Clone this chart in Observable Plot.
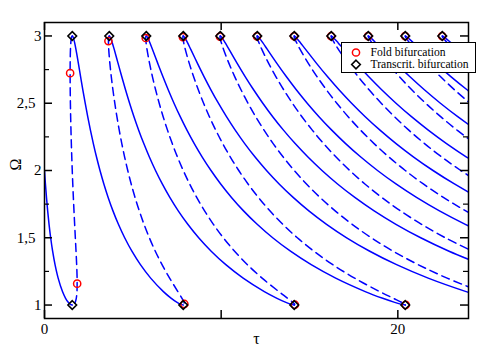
<!DOCTYPE html>
<html>
<head>
<meta charset="utf-8">
<script src="https://cdn.jsdelivr.net/npm/d3@7"></script>
<script src="https://cdn.jsdelivr.net/npm/@observablehq/plot@0.6"></script>
<style>
  html, body { margin: 0; padding: 0; background: #fff; }
  #wrap { position: relative; width: 485px; height: 357px; }
  #legend { position: absolute; left: 0; top: 0; }
  #wrap svg text { font-family: 'Liberation Serif', 'Times New Roman', serif; }
</style>
</head>
<body>
<div id="wrap"></div>
<script>
// Ω sample levels shared by all branches
const omega = [3, 2.995, 2.98, 2.95, 2.9, 2.8, 2.7, 2.6, 2.5, 2.4, 2.3, 2.2, 2.1, 2.0,
  1.9, 1.8, 1.7, 1.6, 1.5, 1.4, 1.3, 1.2, 1.1, 1.05, 1.02, 1.005, 1];

// solid branches (τ at each Ω level)
const solid0 = [0, 0.0527, 0.1119, 0.1792, 0.2572, 0.3491, 0.4596, 0.5965, 0.7728, 1.0180, 1.1935, 1.3436, 1.4635, 1.5708];
const solid0Start = 13;
const solid1 = [1.5708,1.6068,1.6486,1.7051,1.7805,1.9128,2.0399,2.1691,2.3038,2.4465,2.5993,2.7645,2.9443,3.1416,3.3597,3.6026,3.8752,4.1842,4.5379,4.9476,5.4297,6.0088,6.7300,7.1775,7.5036,7.7154,7.8540];
const solid2 = [3.6652,3.7047,3.7570,3.8350,3.9471,4.1568,4.3670,4.5857,4.8171,5.0645,5.3312,5.6205,5.9363,6.2832,6.6666,7.0932,7.5712,8.1112,8.7267,9.4356,10.2629,11.2448,12.4420,13.1615,13.6636,13.9674,14.1372];
const solid3 = [5.7596,5.8026,5.8655,5.9649,6.1137,6.4008,6.6941,7.0024,7.3304,7.6825,8.0630,8.4765,8.9283,9.4248,9.9736,10.5839,11.2672,12.0382,12.9155,13.9236,15.0962,16.4808,18.1540,19.1455,19.8236,20.2193,20.4204];
const solid4 = [7.8540,7.9005,7.9739,8.0947,8.2803,8.6448,9.0212,9.4189,9.8436,10.3005,10.7948,11.3324,11.9202,12.5664,13.2805,14.0745,14.9632,15.9651,17.1042,18.4116,19.9293,21.7167,23.8659,25.1294];
const solid5 = [9.9484,9.9984,10.0823,10.2246,10.4469,10.8888,11.3483,11.8355,12.3569,12.9185,13.5266,14.1884,14.9122,15.7080,16.5874,17.5652,18.6592,19.8921,21.2930,22.8996,24.7625];
const solid6 = [12.0428,12.0962,12.1908,12.3545,12.6136,13.1328,13.6754,14.2522,14.8702,15.5365,16.2584,17.0444,17.9042,18.8496,19.8944,21.0558,22.3552,23.8191,25.4818];
const solid7 = [14.1372,14.1942,14.2993,14.4844,14.7802,15.3768,16.0026,16.6688,17.3835,18.1545,18.9903,19.9004,20.8962,21.9912,23.2013,24.5465];
const solid8 = [16.2316,16.2920,16.4077,16.6143,16.9468,17.6208,18.3297,19.0854,19.8968,20.7725,21.7221,22.7564,23.8882,25.1328];
const solid9 = [18.3260,18.3900,18.5162,18.7442,19.1134,19.8648,20.6568,21.5020,22.4100,23.3905,24.4539];
const solid10 = [20.4204,20.4879,20.6246,20.8741,21.2800,22.1088,22.9839,23.9186,24.9233];
const solid11 = [22.5147,22.5857,22.7331,23.0040,23.4466,24.3528];

// dashed branches
const dashed0 = [1.5708,1.5400,1.5141,1.4898,1.4694,1.4532,1.4507,1.4558,1.4661,1.4805,1.4984,1.5195,1.5437,1.5708,1.6007,1.6334,1.6688,1.7063,1.7453,1.7844,1.8202,1.8453,1.8380,1.7985,1.7364,1.6625,1.5708];
const dashed1 = [3.6652,3.6379,3.6226,3.6197,3.6361,3.6972,3.7779,3.8724,3.9794,4.0985,4.2302,4.3755,4.5357,4.7124,4.9077,5.1241,5.3648,5.6333,5.9341,6.2724,6.6534,7.0813,7.5500,7.7825,7.8964,7.9144,7.8540];
const dashed2 = [5.7596,5.7358,5.7310,5.7496,5.8027,5.9412,6.1050,6.2890,6.4926,6.7165,6.9621,7.2315,7.5277,7.8540,8.2146,8.6148,9.0608,9.5603,10.1229,10.7604,11.4866,12.3173,13.2620,13.7665,14.0564,14.1664,14.1372];
const dashed3 = [7.8540,7.8337,7.8395,7.8794,7.9693,8.1851,8.4320,8.7056,9.0059,9.3344,9.6938,10.0875,10.5197,10.9956,11.5215,12.1054,12.7567,13.4873,14.3117,15.2483,16.3198,17.5532,18.9739,19.7504,20.2163,20.4182,20.4204];
const dashed4 = [9.9484,9.9316,9.9479,10.0093,10.1359,10.4291,10.7592,11.1222,11.5192,11.9524,12.4257,12.9435,13.5117,14.1372,14.8285,15.5961,16.4527,17.4143,18.5005,19.7363,21.1530,22.7892,24.6859];
const dashed5 = [12.0428,12.0295,12.0564,12.1392,12.3025,12.6731,13.0863,13.5388,14.0324,14.5704,15.1575,15.7995,16.5037,17.2788,18.1354,19.0867,20.1487,21.3413,22.6893,24.2243];
const dashed6 = [14.1372,14.1274,14.1648,14.2691,14.4691,14.9171,15.4134,15.9555,16.5457,17.1884,17.8893,18.6555,19.4957,20.4204,21.4424,22.5774,23.8447,25.2683];
const dashed7 = [16.2316,16.2253,16.2733,16.3990,16.6358,17.1611,17.7405,18.3721,19.0590,19.8064,20.6211,21.5115,22.4877,23.5620,24.7493];
const dashed8 = [18.3260,18.3232,18.3818,18.5289,18.8024,19.4051,20.0676,20.7887,21.5723,22.4244,23.3530,24.3675];
const dashed9 = [20.4204,20.4211,20.4902,20.6588,20.9690,21.6491,22.3947,23.2053,24.0856,25.0424];
const dashed10 = [22.5147,22.5189,22.5986,22.7887,23.1356,23.8931,24.7218];

// bifurcation points
const foldTau =   [1.4504, 1.849, 3.618, 5.730, 7.833, 9.932, 12.029, 14.126, 16.221, 18.317, 20.412, 22.507, 7.917, 14.172, 20.445];
const foldOmega = [2.7235, 1.159, 2.9618, 2.9848, 2.9918, 2.9949, 2.9965, 2.9975, 2.9981, 2.9985, 2.9988, 2.999, 1.008, 1.0025, 1.0012];
const transTau =   [1.5708, 3.6652, 5.7596, 7.854, 9.9484, 12.0428, 14.1372, 16.2316, 18.326, 20.4204, 22.5147, 1.5708, 7.854, 14.1372, 20.4204];
const transOmega = [3, 3, 3, 3, 3, 3, 3, 3, 3, 3, 3, 1, 1, 1, 1];

// ticks and labels
const xMajor = [0, 10, 20];
const xLabels = [0, 20];
const yMajor = [1, 1.5, 2, 2.5, 3];
const yMinor = [1.25, 1.75, 2.25, 2.75];
const legendLabels = ["Fold bifurcation", "Transcrit. bifurcation"];

// ---- build tables ----
const solidList = [solid0, solid1, solid2, solid3, solid4, solid5, solid6, solid7, solid8, solid9, solid10, solid11];
const dashedList = [dashed0, dashed1, dashed2, dashed3, dashed4, dashed5, dashed6, dashed7, dashed8, dashed9, dashed10];
const solidRows = solidList.flatMap((arr, k) => {
  const start = k === 0 ? solid0Start : 0;
  return arr.map((t, i) => ({id: "s" + k, tau: t, omega: omega[start + i]}));
});
const dashedRows = dashedList.flatMap((arr, k) => arr.map((t, i) => ({id: "d" + k, tau: t, omega: omega[i]})));
const folds = foldTau.map((t, i) => ({tau: t, omega: foldOmega[i]}));
const trans = transTau.map((t, i) => ({tau: t, omega: transOmega[i]}));

const W = 485, H = 357, mL = 44, mR = 17, mT = 22, mB = 39;
const fw = W - mL - mR, fh = H - mT - mB;
const font = "'Liberation Serif', 'Times New Roman', serif";
const fmt = d => String(d).replace(".", ",");
const blue = "#0000ff";
const txt = {fill: "black", fontFamily: font};

const chart = Plot.plot({
  width: W, height: H,
  marginLeft: mL, marginRight: mR, marginTop: mT, marginBottom: mB,
  style: {fontFamily: font, background: "white", overflow: "visible"},
  x: {domain: [0, 24], axis: null},
  y: {domain: [0.9, 3.1], axis: null},
  marks: [
    Plot.line(solidRows, {x: "tau", y: "omega", z: "id", stroke: blue, strokeWidth: 1.5, curve: "catmull-rom", clip: true}),
    Plot.line(dashedRows, {x: "tau", y: "omega", z: "id", stroke: blue, strokeWidth: 1.5, strokeDasharray: "8,5", curve: "catmull-rom", clip: true}),
    Plot.frame({stroke: "black", strokeWidth: 1.5}),
    // inward ticks, all four sides
    Plot.tickY(yMajor, {y: d => d, insetRight: fw - 8, stroke: "black", strokeWidth: 1.5}),
    Plot.tickY(yMinor, {y: d => d, insetRight: fw - 5, stroke: "black", strokeWidth: 1.2}),
    Plot.tickY(yMajor, {y: d => d, insetLeft: fw - 8, stroke: "black", strokeWidth: 1.5}),
    Plot.tickY(yMinor, {y: d => d, insetLeft: fw - 5, stroke: "black", strokeWidth: 1.2}),
    Plot.tickX(xMajor, {x: d => d, insetTop: fh - 8, stroke: "black", strokeWidth: 1.5}),
    Plot.tickX(xMajor, {x: d => d, insetBottom: fh - 8, stroke: "black", strokeWidth: 1.5}),
    // markers
    Plot.dot(folds, {x: "tau", y: "omega", r: 3.6, stroke: "#ff0000", strokeWidth: 1.5, fill: "none"}),
    Plot.dot(trans, {x: "tau", y: "omega", r: 3.9, symbol: "diamond2", stroke: "black", strokeWidth: 1.6, fill: "none"}),
    // tick labels
    Plot.text(yMajor.filter(d => Number.isInteger(d)), {...txt, y: d => d, frameAnchor: "left", textAnchor: "end", dx: -3, text: fmt, fontSize: 15}),
    Plot.text(yMajor.filter(d => !Number.isInteger(d)), {...txt, y: d => d, frameAnchor: "left", textAnchor: "end", dx: -9, text: fmt, fontSize: 15}),
    Plot.text(xLabels, {...txt, x: d => d, frameAnchor: "bottom", lineAnchor: "top", dy: 5, text: d => String(d), fontSize: 15}),
    // axis titles
    Plot.text(["Ω"], {...txt, frameAnchor: "left", dx: -29, rotate: -90, fontSize: 16}),
    Plot.text(["τ"], {...txt, frameAnchor: "bottom", dy: 25, fontSize: 16})
  ]
});

const wrap = document.getElementById("wrap");
wrap.appendChild(chart);

// legend box (drawn over the plot, as in the reference)
const ns = "http://www.w3.org/2000/svg";
const leg = document.createElementNS(ns, "svg");
leg.setAttribute("id", "legend");
leg.setAttribute("width", W);
leg.setAttribute("height", H);
leg.innerHTML = `
  <rect x="341.5" y="42.5" width="134" height="30" fill="white" stroke="black" stroke-width="1"/>
  <circle cx="356" cy="52.5" r="3.6" fill="none" stroke="#ff0000" stroke-width="1.5"/>
  <path d="M356,60.2 L360.3,64.5 L356,68.8 L351.7,64.5 Z" fill="none" stroke="black" stroke-width="1.6"/>
  <text x="370.5" y="55.6" font-size="11.6" fill="black">${legendLabels[0]}</text>
  <text x="370.5" y="68.4" font-size="11.6" fill="black">${legendLabels[1]}</text>
`;
wrap.appendChild(leg);
</script>
</body>
</html>
